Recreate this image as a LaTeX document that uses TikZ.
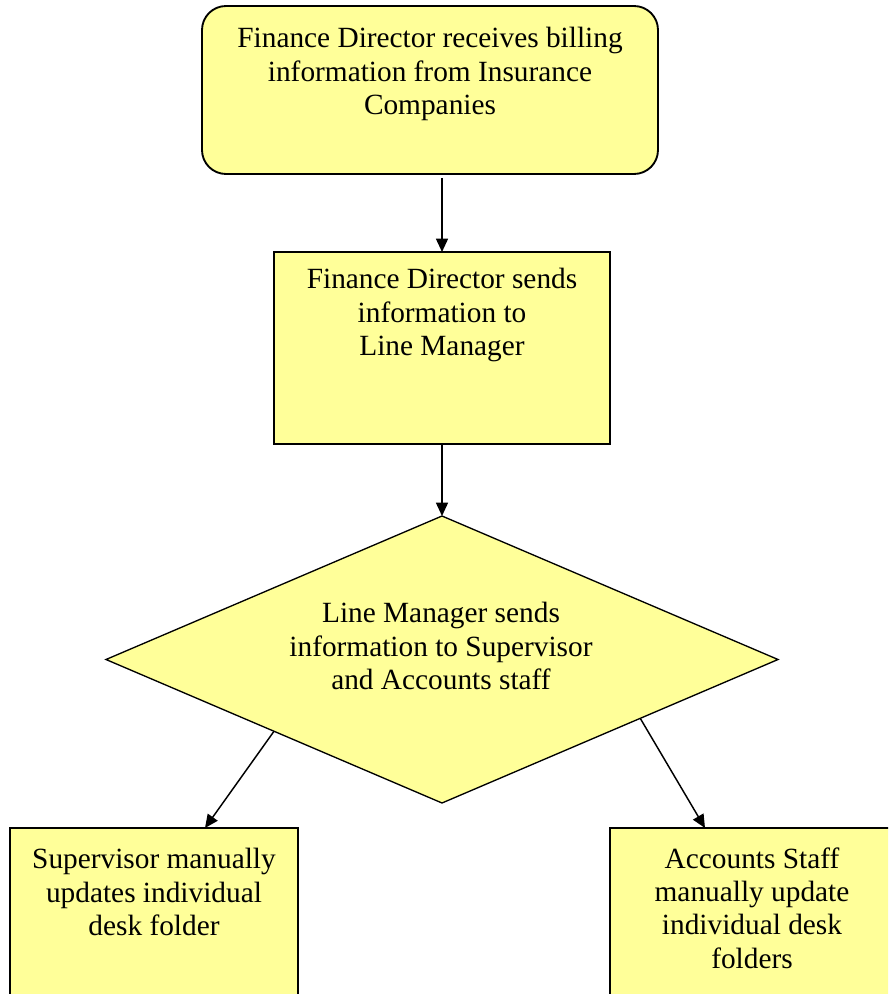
\documentclass[tikz,border=0pt]{standalone}
\usepackage{fontspec}
\setmainfont{Liberation Serif}
\usetikzlibrary{arrows.meta,shapes.geometric,calc}
\definecolor{boxfill}{HTML}{FFFF99}
\begin{document}
\begin{tikzpicture}[x=0.75pt,y=-0.75pt,
  shapebox/.style={draw=black, fill=boxfill, line width=1.4pt, inner sep=0pt, outer sep=0pt},
  txt/.style={align=center, font=\fontsize{22}{25}\selectfont, inner sep=0pt},
  conn/.style={line width=1.1pt, -{Triangle[length=10pt,width=9pt]}}]
\useasboundingbox (0,0) rectangle (888,994);
\clip (0,0) rectangle (888,994);
\node[shapebox, rounded corners=18pt, minimum width=342pt, minimum height=126pt] (top) at (430,90) {};
\node[shapebox, minimum width=252pt, minimum height=144pt] (mid) at (442,348) {};
\node[shapebox, diamond, line width=1pt, minimum width=504pt, minimum height=215.25pt] (dia) at (442,659.5) {};
\node[shapebox, minimum width=216pt, minimum height=136.5pt, anchor=north west] (left) at (10,828) {};
\node[shapebox, minimum width=213pt, minimum height=136.5pt, anchor=north west] (right) at (610,828) {};
\node[txt] (ttop) at (430,74) {Finance Director receives billing\\information from Insurance\\Companies};
\node[txt] (tmid) at (442,315) {Finance Director sends\\information to\\Line Manager};
\node[txt] (tdia) at (441,646) {Line Manager sends\\information to Supervisor\\and Accounts staff};
\node[txt] (tleft) at (154,892) {Supervisor manually\\updates individual\\desk folder};
\node[txt] (tright) at (752,908) {Accounts Staff\\manually update\\individual desk\\folders};
\coordinate (dse) at ($(dia.east)!0.41!(dia.south)$);
\draw[conn] ([yshift=-3pt]top.south -| mid.north) -- (mid.north);
\draw[conn] (mid.south) -- (dia.north);
\draw[conn] (dia.south west) -- ([xshift=146.25pt]left.north west);
\draw[conn] (dse) -- ([xshift=71.25pt]right.north west);
\end{tikzpicture}
\end{document}
